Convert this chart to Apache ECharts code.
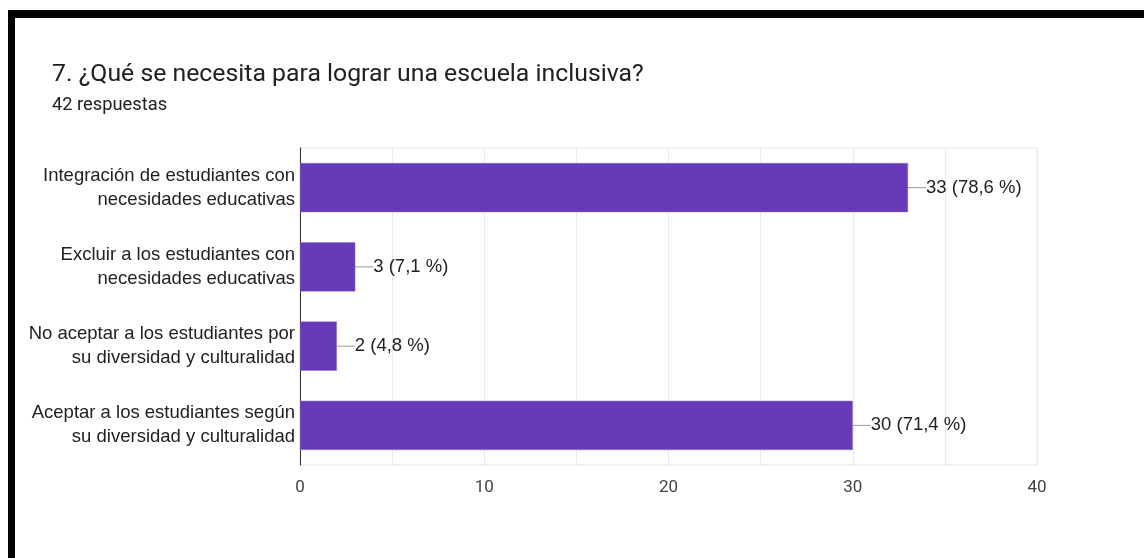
<!DOCTYPE html>
<html>
<head>
<meta charset="utf-8">
<script src="https://cdn.jsdelivr.net/npm/echarts@6/dist/echarts.min.js"></script>
<style>
html,body{margin:0;padding:0;background:#fff;}
#chart{width:1144px;height:558px;}
</style>
</head>
<body>
<div id="chart"></div>
<script>
const titleText = '7. ¿Qué se necesita para lograr una escuela inclusiva?';
const subtitleText = '42 respuestas';
const categories = [
  'Integración de estudiantes con\nnecesidades educativas',
  'Excluir a los estudiantes con\nnecesidades educativas',
  'No aceptar a los estudiantes por\nsu diversidad y culturalidad',
  'Aceptar a los estudiantes según\nsu diversidad y culturalidad'
];
const counts = [33, 3, 2, 30];
const percents = ['78,6', '7,1', '4,8', '71,4'];
const xTicks = [0, 10, 20, 30, 40];

const labelFont = '"Liberation Sans", Arial, sans-serif';
const chart = echarts.init(document.getElementById('chart'), null, {renderer: 'canvas'});
chart.setOption({
  animation: false,
  backgroundColor: '#ffffff',
  title: {
    text: titleText,
    subtext: subtitleText,
    left: 47,
    top: 57,
    itemGap: 9,
    textStyle: {fontFamily: 'Roboto', fontSize: 24.8, fontWeight: 'normal', color: '#202124'},
    subtextStyle: {fontFamily: 'Roboto', fontSize: 18.3, color: '#202124'}
  },
  graphic: [
    {type: 'rect', shape: {x: 8, y: 10, width: 1136, height: 8}, style: {fill: '#000'}, silent: true},
    {type: 'rect', shape: {x: 8, y: 10, width: 7, height: 548}, style: {fill: '#000'}, silent: true}
  ],
  grid: {
    left: 300, right: 107, top: 148, bottom: 93,
    show: true, borderColor: '#e6e6e6', borderWidth: 1
  },
  xAxis: {
    type: 'value',
    min: xTicks[0], max: xTicks[xTicks.length - 1], interval: 10,
    axisLine: {show: false},
    axisTick: {show: false},
    axisLabel: {fontFamily: 'Roboto', fontSize: 17, color: '#444', margin: 14},
    splitLine: {show: true, lineStyle: {color: '#ebebeb', width: 1}},
    minorTick: {show: false, splitNumber: 2},
    minorSplitLine: {show: true, lineStyle: {color: '#ebebeb', width: 1}}
  },
  yAxis: {
    type: 'category',
    inverse: true,
    data: categories,
    axisLine: {show: true, lineStyle: {color: '#333', width: 1}},
    axisTick: {show: false},
    axisLabel: {fontFamily: labelFont, fontSize: 18.5, color: '#222', lineHeight: 24, margin: 5, align: 'right'},
    splitLine: {show: false}
  },
  series: [{
    type: 'bar',
    data: counts,
    barCategoryGap: '38%',
    itemStyle: {color: '#673ab7', borderColor: '#8e6fd0', borderWidth: 0.5},
    label: {
      show: true,
      position: 'right',
      distance: 0,
      fontFamily: labelFont,
      fontSize: 18.5,
      color: '#222',
      formatter: p => p.value + ' (' + percents[p.dataIndex] + ' %)'
    },
    labelLayout: {dx: 18},
    labelLine: {show: true, lineStyle: {color: '#999', width: 1}}
  }]
});
</script>
</body>
</html>
